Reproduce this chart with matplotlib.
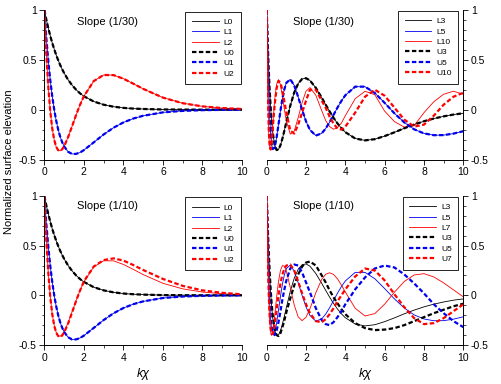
import matplotlib
matplotlib.use('Agg')
import matplotlib.pyplot as plt
from matplotlib.ticker import MultipleLocator

plt.rcParams['font.family'] = ['Liberation Sans', 'DejaVu Sans']
plt.rcParams['axes.unicode_minus'] = False

# kx sample positions (left panels: modes 0-2, right panels: higher modes)
xl = [0, 0.1, 0.2, 0.3, 0.4, 0.5, 0.6, 0.7, 0.8, 0.9, 1.0, 1.2, 1.4, 1.6, 1.8,
      2.0, 2.5, 3.0, 3.5, 4.0, 4.5, 5, 6, 7, 8, 9, 10]
xr = [0, 0.05, 0.1, 0.15, 0.2, 0.25, 0.3, 0.4, 0.5, 0.6, 0.7, 0.8, 0.9, 1.0,
      1.2, 1.4, 1.6, 1.8, 2.0, 2.2, 2.5, 2.8, 3.0, 3.2, 3.4, 3.6, 3.8, 4.0,
      4.5, 5.0, 5.5, 6.0, 6.5, 7.0, 7.5, 8.0, 8.5, 9.0, 9.5, 10]

# left panels
L0 = [1, .905, .819, .741, .670, .607, .549, .497, .449, .407, .368, .301, .247,
      .202, .165, .135, .082, .050, .030, .018, .011, .007, .002, .001, 0, 0, 0]
L1 = [1, .724, .491, .296, .134, 0, -.110, -.199, -.270, -.325, -.368, -.422,
      -.444, -.444, -.430, -.406, -.328, -.249, -.181, -.128, -.089, -.061,
      -.027, -.012, -.005, -.002, -.001]
L2 = [1, .561, .229, -.015, -.188, -.303, -.373, -.407, -.413, -.398, -.368,
      -.277, -.168, -.057, .046, .135, .287, .348, .347, .311, .261, .209, .121,
      .065, .033, .016, .007]
U0_30 = list(L0)
U1_30 = list(L1)
U2_30 = list(L2)
U0_10 = list(L0)
U1_10 = list(L1)
U2_10 = [1, .56, .23, -.015, -.19, -.305, -.375, -.41, -.42, -.405, -.375, -.285,
         -.175, -.06, .045, .14, .29, .355, .372, .35, .305, .255, .165, .095,
         .05, .025, .01]

# right panels
L3 = [1, .68, .415, .198, .024, -.114, -.219, -.352, -.404, -.400, -.356, -.289,
      -.208, -.123, .041, .173, .262, .308, .316, .293, .219, .120, .050, -.018,
      -.082, -.138, -.186, -.226, -.289, -.308, -.296, -.265, -.227, -.186,
      -.149, -.116, -.089, -.067, -.049, -.036]
L5 = [1, .522, .169, -.080, -.247, -.347, -.395, -.382, -.283, -.148, -.009,
      .113, .207, .270, .304, .243, .128, -.001, -.117, -.203, -.260, -.237,
      -.189, -.125, -.052, .021, .088, .145, .231, .231, .167, .068, -.037,
      -.128, -.197, -.238, -.256, -.255, -.240, -.216]
L10 = [1, .196, -.223, -.387, -.39, -.303, -.175, .086, .254, .301, .249, .137,
       .00, -.114, -.246, -.216, -.080, .072, .186, .222, .144, -.010, -.109,
       -.17, -.196, -.18, -.134, -.06, .11, .185, .15, -.015, -.12, -.175, -.16,
       -.03, .08, .155, .185, .155]
L7 = [1, .380, -.022, -.259, -.375, -.404, -.374, -.217, -.025, .141, .251, .300,
      .293, .244, .077, -.098, -.216, -.255, -.220, -.135, .027, .161, .212,
      .227, .210, .166, .103, .033, -.130, -.208, -.184, -.089, .032, .140,
      .205, .218, .185, .125, .055, -.015]
U3_30 = list(L3)
U5_30 = list(L5)
U10_30 = [1, .25, -.18, -.37, -.40, -.32, -.20, .04, .21, .29, .27, .19, .08,
          -.03, -.21, -.24, -.15, -.03, .09, .20, .20, .09, .02, -.07, -.14,
          -.19, -.20, -.17, -.03, .13, .20, .14, .02, -.10, -.17, -.15, -.06,
          .05, .13, .17]
U3_10 = [1, .70, .45, .24, .06, -.08, -.19, -.34, -.40, -.41, -.38, -.32, -.25,
         -.17, -.03, .10, .21, .29, .33, .34, .30, .20, .13, .05, -.02, -.08,
         -.14, -.19, -.28, -.33, -.35, -.345, -.33, -.30, -.26, -.22, -.18,
         -.145, -.11, -.085]
U5_10 = [1, .55, .21, -.03, -.20, -.31, -.37, -.40, -.36, -.27, -.16, -.04, .06,
         .15, .27, .31, .30, .23, .13, .03, -.13, -.25, -.29, -.30, -.27, -.22,
         -.16, -.09, .06, .18, .27, .30, .28, .21, .12, .02, -.09, -.18, -.26,
         -.32]
U7_10 = [1, .42, .03, -.21, -.34, -.39, -.39, -.30, -.15, .0, .12, .21, .27, .30,
         .31, .25, .14, .02, -.09, -.18, -.26, -.27, -.24, -.19, -.13, -.06, .0,
         .06, .19, .27, .25, .15, .01, -.12, -.23, -.29, -.28, -.23, -.16, -.09]

colors = ['black', '#0000ee', '#ff0000']

panels = [
    # position, x, thin curves, dashed curves, mode labels, title, side
    ([0.0883, 0.5846, 0.3938, 0.3893], xl, [L0, L1, L2], [U0_30, U1_30, U2_30],
     ['0', '1', '2'], 'Slope (1/30)', 'left'),
    ([0.5313, 0.5846, 0.3916, 0.3893], xr, [L3, L5, L10], [U3_30, U5_30, U10_30],
     ['3', '5', '10'], 'Slope (1/30)', 'right'),
    ([0.0883, 0.1016, 0.3938, 0.3880], xl, [L0, L1, L2], [U0_10, U1_10, U2_10],
     ['0', '1', '2'], 'Slope (1/10)', 'left'),
    ([0.5313, 0.1016, 0.3916, 0.3880], xr, [L3, L5, L7], [U3_10, U5_10, U7_10],
     ['3', '5', '7'], 'Slope (1/10)', 'right'),
]

fig = plt.figure(figsize=(5.02, 3.84), dpi=100)

for pos, x, thin, dashed, modes, title, side in panels:
    ax = fig.add_axes(pos)
    for y, c, m in zip(thin, colors, modes):
        ax.plot(x, y, color=c, lw=0.6, label='L' + m)
    for y, c, m in zip(dashed, colors, modes):
        ax.plot(x, y, color=c, lw=1.6, ls=(0, (2.0, 1.1)), label='U' + m)

    ax.set_xlim(0, 10)
    ax.set_ylim(-0.5, 1)
    ax.xaxis.set_minor_locator(MultipleLocator(1))
    ax.yaxis.set_minor_locator(MultipleLocator(0.1))
    ax.set_yticks([-0.5, 0, 0.5, 1])
    ax.set_yticklabels(['-0.5', '0', '0.5', '1'])
    ax.set_xticks([0, 2, 4, 6, 8, 10])
    ax.set_xticklabels(['0', '2', '4', '6', '8', '10'])
    ax.tick_params(which='major', direction='out', length=3.5, width=0.6,
                   labelsize=7.5, pad=2)
    ax.tick_params(which='minor', direction='out', length=1.8, width=0.5)

    ax.spines['top'].set_visible(False)
    if side == 'left':
        ax.spines['right'].set_visible(False)
    else:
        ax.spines['left'].set_visible(False)
        ax.yaxis.tick_right()
    for s in ax.spines.values():
        s.set_linewidth(0.7)

    ty = 0.88 if '30' in title else 0.9
    if side == 'left':
        ax.text(1.65, ty, title, fontsize=8, va='center')
        anchor = (0.995, 0.99)
    else:
        ax.text(1.33, ty, title, fontsize=8, va='center')
        anchor = (0.975, 0.995)

    leg = ax.legend(loc='upper right', bbox_to_anchor=anchor, fontsize=6,
                    frameon=True, fancybox=False, edgecolor='black',
                    framealpha=1, handlelength=3.2, handletextpad=0.6,
                    labelspacing=0.3, borderpad=0.8, borderaxespad=0)
    leg.get_frame().set_linewidth(0.6)

fig.text(0.018, 0.58, 'Normalized surface elevation', rotation=90,
         ha='center', va='center', fontsize=8)
fig.text(0.285, 0.025, 'kχ', style='italic', ha='center', va='center',
         fontsize=9)
fig.text(0.727, 0.025, 'kχ', style='italic', ha='center', va='center',
         fontsize=9)

fig.savefig('out.png', dpi=100)
